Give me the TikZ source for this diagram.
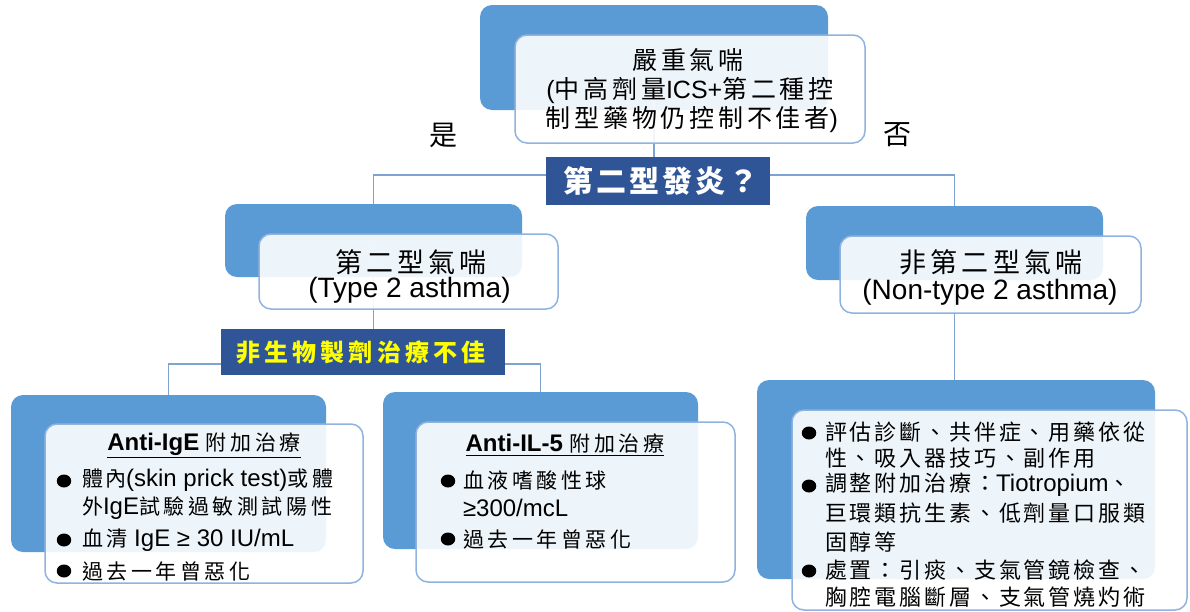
\documentclass[tikz,border=0pt]{standalone}
\usepackage{fontspec}
\setmainfont{Liberation Sans}
\newfontfamily\cj[LetterSpace=10]{Noto Sans CJK TC}
\newcommand\cjs[1]{\cj\addfontfeatures{LetterSpace=#1}}
\newcommand\fsz[1]{\fontsize{#1}{#1}\selectfont}
\usetikzlibrary{shapes.geometric}
\definecolor{backblue}{HTML}{5B9BD5}
\definecolor{edgeblue}{HTML}{8FB3DE}
\definecolor{linkblue}{HTML}{7FA3D0}
\definecolor{darkblue}{HTML}{2F5597}
\definecolor{hiyellow}{HTML}{FFFF00}
\begin{document}
\begin{tikzpicture}[x=1pt,y=-1pt,
  backbox/.style={fill=backblue,rounded corners=12pt,draw=none,inner sep=0pt,outer sep=0pt},
  frontbox/.style={fill=white,fill opacity=0.9,draw=edgeblue,line width=1.5pt,rounded corners=12pt,inner sep=0pt,outer sep=0pt},
  decbox/.style={fill=darkblue,draw=none,inner sep=0pt,outer sep=0pt},
  link/.style={draw=linkblue,line width=1.3pt},
  txt/.style={inner sep=0pt,outer sep=0pt,text=black},
  ltxt/.style={txt,anchor=west},
  bul/.style={ellipse,fill=black,inner sep=0pt,minimum width=14.5pt,minimum height=13pt}]
\useasboundingbox (0,0) rectangle (1190,611);
% back boxes
\node[backbox,minimum width=348pt,minimum height=105pt] (topb) at (654,57.5) {};
\node[backbox,minimum width=297pt,minimum height=73pt] (l2b) at (373.5,240.5) {};
\node[backbox,minimum width=297pt,minimum height=74pt] (r2b) at (954.5,243) {};
\node[backbox,minimum width=315pt,minimum height=157pt] (blb) at (168.5,473.5) {};
\node[backbox,minimum width=315pt,minimum height=157pt] (bmb) at (540.5,470.5) {};
\node[backbox,minimum width=398pt,minimum height=199pt] (brb) at (956,479.5) {};
% decision boxes
\node[decbox,minimum width=224pt,minimum height=48pt] (d1) at (658,181) {};
\node[decbox,minimum width=284pt,minimum height=46pt] (d2) at (363,352) {};
% connectors
\draw[link] (topb.center) -- (topb.center |- d1.north);
\draw[link] ([yshift=6pt]d1.west) -| (l2b.north);
\draw[link] ([yshift=6pt]d1.east) -| (r2b.north);
\draw[link] (l2b.center) -- (l2b.center |- d2.north);
\draw[link] ([yshift=-12pt]d2.west) -| (blb.north);
\draw[link] ([yshift=-12pt]d2.east) -| (bmb.north);
\draw[link] (r2b.center) -- (r2b.center |- brb.north);
% front boxes
\node[frontbox,minimum width=350pt,minimum height=108pt] (topf) at (690,89) {};
\node[frontbox,minimum width=299pt,minimum height=75pt] (l2f) at (408.5,271.5) {};
\node[frontbox,minimum width=301pt,minimum height=77pt] (r2f) at (990.5,274.5) {};
\node[frontbox,minimum width=318pt,minimum height=159pt] (blf) at (204,503.5) {};
\node[frontbox,minimum width=319pt,minimum height=160pt] (bmf) at (575.5,502) {};
\node[frontbox,minimum width=395pt,minimum height=200pt] (brf) at (989.5,510) {};
% decision texts
\node[txt,text=white,font=\cjs{10}\bfseries\fsz{30}] (d1t) at (661,181) {第二型發炎？};
\node[txt,text=hiyellow,font=\cjs{17}\bfseries\fsz{24}] (d2t) at (361,352) {非生物製劑治療不佳};
% top texts
\node[txt,font=\fsz{25}] (t1) at (688,60) {\cjs{15}嚴重氣喘};
\node[txt,font=\fsz{25}] (t2) at (690,90) {({\cjs{15}中高劑量}ICS+{\cjs{15}第二種控}};
\node[txt,font=\fsz{25}] (t3) at (692,120) {{\cjs{15}制型藥物仍控制不佳者})};
\node[txt,font=\cj\fsz{28}] (yes) at (443,135) {是};
\node[txt,font=\cj\fsz{28}] (no) at (897,135) {否};
% level 2 texts
\node[txt,font=\cjs{15}\fsz{27}] (l2t1) at (411,262) {第二型氣喘};
\node[txt,font=\fsz{28}] (l2t2) at (409.5,290) {(Type 2 asthma)};
\node[txt,font=\cjs{16}\fsz{27}] (r2t1) at (991,262) {非第二型氣喘};
\node[txt,font=\fsz{28}] (r2t2) at (990,292) {(Non-type 2 asthma)};
% bottom left
\node[txt,font=\fsz{24}] (blt) at (204,445) {\underline{\textbf{Anti-IgE} {\cjs{17}\fsz{21}附加治療}}};
\node[bul] (blb1) at (64,481) {};
\node[ltxt,font=\fsz{24}] (bl1) at (82,480) {{\cjs{10}\fsz{21}體內}(skin prick test){\cjs{17}\fsz{21}或體}};
\node[ltxt,font=\fsz{24}] (bl2) at (82,508) {{\cjs{17}\fsz{21}外}IgE{\cjs{17}\fsz{21}試驗過敏測試陽性}};
\node[bul] (blb2) at (64,540) {};
\node[ltxt,font=\fsz{24}] (bl3) at (82,540) {{\cjs{17}\fsz{21}血清} IgE ≥ 30 IU/mL};
\node[bul] (blb3) at (64,571) {};
\node[ltxt,font=\cjs{17}\fsz{21}] (bl4) at (82,571) {過去一年曾惡化};
% bottom middle
\node[txt,font=\fsz{24}] (bmt) at (565,445) {\underline{\textbf{Anti-IL-5} {\cjs{17}\fsz{21}附加治療}}};
\node[bul] (bmb1) at (448,481) {};
\node[ltxt,font=\cjs{17}\fsz{21}] (bm1) at (463,480) {血液嗜酸性球};
\node[ltxt,font=\fsz{24}] (bm2) at (463,508) {≥300/mcL};
\node[bul] (bmb2) at (448,539) {};
\node[ltxt,font=\cjs{17}\fsz{21}] (bm3) at (463,539) {過去一年曾惡化};
% bottom right
\node[bul] (brb1) at (809,433) {};
\node[ltxt,font=\cjs{13}\fsz{22}] (br1) at (825,432) {評估診斷、共伴症、用藥依從};
\node[ltxt,font=\cjs{13}\fsz{22}] (br2) at (825,458) {性、吸入器技巧、副作用};
\node[bul] (brb2) at (809,486) {};
\node[ltxt,font=\fsz{24}] (br3) at (825,485) {{\cjs{13}\fsz{22}調整附加治療：}Tiotropium{\cjs{13}\fsz{22}、}};
\node[ltxt,font=\cjs{13}\fsz{22}] (br4) at (825,513) {巨環類抗生素、低劑量口服類};
\node[ltxt,font=\cjs{13}\fsz{22}] (br5) at (825,542) {固醇等};
\node[bul] (brb3) at (809,571) {};
\node[ltxt,font=\cjs{13}\fsz{22}] (br6) at (825,570) {處置：引痰、支氣管鏡檢查、};
\node[ltxt,font=\cjs{13}\fsz{22}] (br7) at (825,597) {胸腔電腦斷層、支氣管燒灼術};
\end{tikzpicture}
\end{document}
